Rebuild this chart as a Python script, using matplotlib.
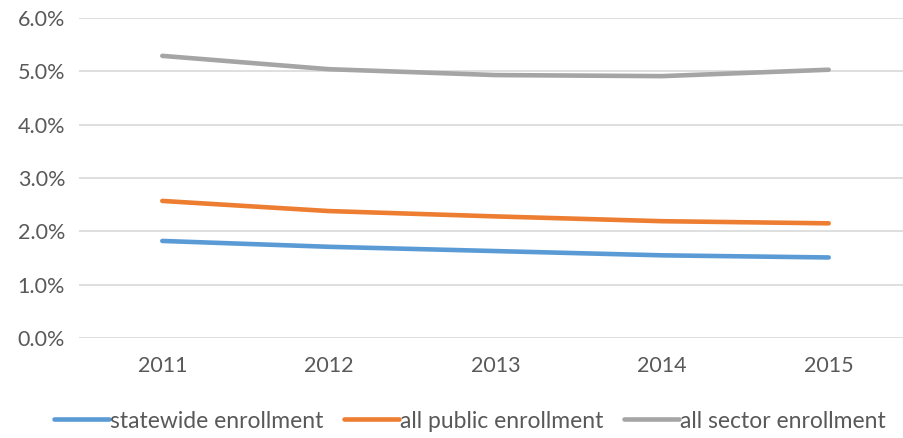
import matplotlib
matplotlib.use("Agg")
import matplotlib.pyplot as plt
import matplotlib.ticker as ticker

# ------------------------------------------------------------
# Data
# ------------------------------------------------------------
years = ["2011", "2012", "2013", "2014", "2015"]
statewide = [1.82, 1.71, 1.63, 1.55, 1.51]
all_public = [2.57, 2.38, 2.28, 2.19, 2.15]
all_sector = [5.29, 5.04, 4.93, 4.91, 5.03]

series_names = ["statewide enrollment", "all public enrollment", "all sector enrollment"]
series_colors = ["#5B9BD5", "#ED7D31", "#A5A5A5"]

plt.rcParams['font.family'] = ['Lato', 'DejaVu Sans']

W, H = 904, 438
fig = plt.figure(figsize=(W / 100, H / 100), dpi=100)
ax = fig.add_axes([79 / W, 100 / H, 833 / W, 320 / H])

x = range(len(years))
for vals, name, col in zip([statewide, all_public, all_sector], series_names, series_colors):
    ax.plot(x, vals, color=col, linewidth=3.3, label=name,
            solid_capstyle='round', solid_joinstyle='round')

ax.set_xlim(-0.5, len(years) - 0.5)
ax.set_ylim(0, 6)
ax.set_xticks(list(x))
ax.set_xticklabels(years)
ax.yaxis.set_major_locator(ticker.MultipleLocator(1))
ax.yaxis.set_major_formatter(ticker.FuncFormatter(lambda v, p: f"{v:.1f}%"))

ax.grid(axis='y', color='#D9D9D9', linewidth=1.2)
ax.set_axisbelow(True)
for s in ax.spines.values():
    s.set_visible(False)
ax.tick_params(axis='both', length=0, labelsize=15.5, labelcolor='#595959')
ax.tick_params(axis='y', pad=10)
ax.tick_params(axis='x', pad=13)

leg = fig.legend(loc='center', bbox_to_anchor=(470 / W, 1 - 421 / H), ncol=3,
                 frameon=False, fontsize=16.5, handlelength=2.4, handletextpad=0.05,
                 columnspacing=0.9)
for t in leg.get_texts():
    t.set_color('#595959')

fig.savefig("out.png", dpi=100)
